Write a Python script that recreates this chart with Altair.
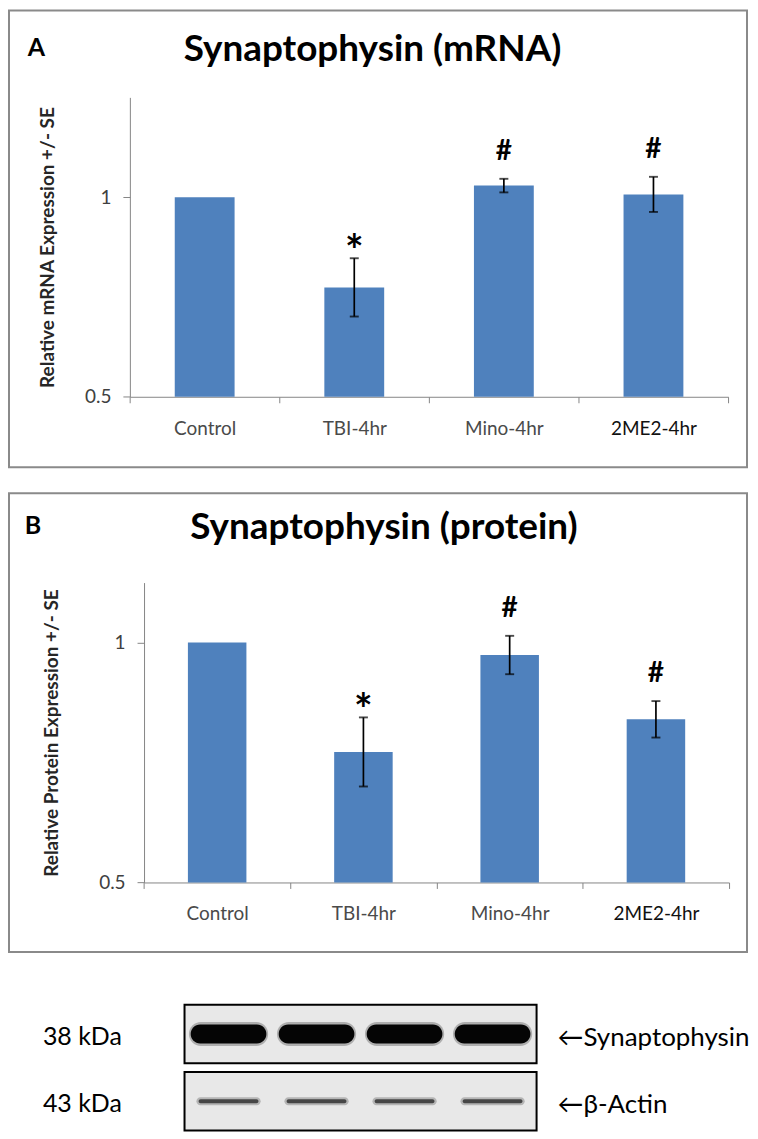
import altair as alt
import pandas as pd

# ---------------- data ----------------
categories = ["Control", "TBI-4hr", "Mino-4hr", "2ME2-4hr"]
mrna_mean = [1.0, 0.774, 1.029, 1.007]
mrna_se = [0.0, 0.073, 0.017, 0.044]
protein_mean = [1.0, 0.772, 0.974, 0.840]
protein_se = [0.0, 0.072, 0.040, 0.038]
significance = ["", "*", "#", "#"]
y_ticks = [0.5, 1.0]

blot_rows = ["Synaptophysin", "β-Actin"]
blot_kda = ["38 kDa", "43 kDa"]
blot_names = ["←Synaptophysin", "←β-Actin"]
lanes = categories

# ---------------- style ----------------
BAR = "#4F81BD"
AXIS = "#868686"
FONT = "Lato"
W = 740


def panel(letter, title, mean, se, ytitle, ymax, height, y_bottom, y_top,
          x_left, x_right, title_x, title_base, letter_x, letter_base,
          title_pad, label_pad):
    df = pd.DataFrame({"cat": categories, "mean": mean, "se": se, "sig": significance})
    base = alt.Chart(df).transform_calculate(
        lo="datum.mean - datum.se", hi="datum.mean + datum.se"
    )
    X = alt.X(
        "cat:N", sort=categories, title=None,
        scale=alt.Scale(range=[x_left, x_right], paddingInner=0, paddingOuter=0),
        axis=alt.Axis(
            orient="bottom", offset=-(height - y_bottom), labelAngle=0,
            tickBand="extent", domainColor=AXIS, tickColor=AXIS, tickSize=6,
            labelFont=FONT, labelFontSize=19, labelPadding=label_pad,
            labelColor=alt.condition("datum.value == '2ME2-4hr'",
                                     alt.value("#111111"), alt.value("#4a4a4a")),
            grid=False,
        ),
    )
    yscale = alt.Scale(domain=[0.5, ymax], range=[y_bottom, y_top], nice=False, zero=False)
    yaxis = alt.Axis(
        values=y_ticks, format="~g", orient="left", offset=-x_left,
        domainColor=AXIS, tickColor=AXIS, tickSize=7, grid=False,
        labelFont=FONT, labelFontSize=19, labelColor="#404040", labelPadding=12,
        titleFont=FONT, titleFontSize=19, titleFontWeight="bold",
        titleColor="#262626", titlePadding=title_pad,
    )

    def Y(field):
        return alt.Y(field, type="quantitative", scale=yscale, axis=yaxis, title=ytitle)

    bars = base.mark_bar(color=BAR, width=alt.RelativeBandSize(0.4)).encode(
        x=X, y=Y("mean"), y2=alt.datum(0.5)
    )
    witherr = base.transform_filter("datum.se > 0")
    err = witherr.mark_rule(color="black", strokeWidth=1.7).encode(
        x=X, y=Y("lo"), y2="hi:Q"
    )
    cap_lo = witherr.mark_tick(orient="horizontal", size=9, thickness=1.9, color="black").encode(
        x=X, y=Y("lo")
    )
    cap_hi = witherr.mark_tick(orient="horizontal", size=9, thickness=1.9, color="black").encode(
        x=X, y=Y("hi")
    )
    hashes = base.transform_filter("datum.sig == '#'").mark_text(
        font=FONT, fontSize=28, fontWeight="bold", baseline="alphabetic", dy=-19, color="black"
    ).encode(x=X, y=Y("hi"), text="sig:N")
    stars = base.transform_filter("datum.sig == '*'").mark_text(
        font=FONT, fontSize=44, fontWeight="bold", baseline="alphabetic", dy=8, color="black"
    ).encode(x=X, y=Y("hi"), text="sig:N")

    ttl = alt.Chart(pd.DataFrame({"t": [title]})).mark_text(
        font=FONT, fontSize=37, fontWeight="bold", align="center",
        baseline="alphabetic", color="black"
    ).encode(text="t:N", x=alt.value(title_x), y=alt.value(title_base))
    let = alt.Chart(pd.DataFrame({"t": [letter]})).mark_text(
        font=FONT, fontSize=25, fontWeight="bold", align="left",
        baseline="alphabetic", color="black"
    ).encode(text="t:N", x=alt.value(letter_x), y=alt.value(letter_base))

    return alt.layer(bars, err, cap_lo, cap_hi, hashes, stars, ttl, let).properties(
        width=W, height=height,
        view=alt.ViewBackground(stroke="#8a8a8a", strokeWidth=2),
    )


panel_a = panel("A", "Synaptophysin (mRNA)", mrna_mean, mrna_se,
                "Relative mRNA Expression +/- SE", 1.25, 458, 387.3, 87.1,
                121.2, 721.2, 364.5, 50.5, 18.8, 45.8, 27, 17)
panel_b = panel("B", "Synaptophysin (protein)", protein_mean, protein_se,
                "Relative Protein Expression +/- SE", 1.125, 460, 390.3, 89.6,
                135.4, 722.0, 376.0, 45.5, 15.8, 40.8, 37, 16)

# ---------------- western blot ----------------
BL, BR = 176, 529
bands = pd.DataFrame([{"lane": l, "row": r} for r in blot_rows for l in lanes])
rows_df = pd.DataFrame({"row": blot_rows, "kda": blot_kda, "name": blot_names})

Xl = alt.X("lane:N", sort=lanes, axis=None,
           scale=alt.Scale(range=[BL, BR], paddingInner=0, paddingOuter=0))
Yr = alt.Y("row:N", sort=blot_rows, axis=None,
           scale=alt.Scale(range=[28, 154], paddingInner=0.132, paddingOuter=0))

boxes = alt.Chart(rows_df).mark_rect(fill="#e8e8e8", stroke="black", strokeWidth=2).encode(
    y=Yr, x=alt.value(BL), x2=alt.value(BR)
)
syn_halo = alt.Chart(bands).transform_filter("datum.row == 'Synaptophysin'").mark_bar(
    color="#000000", height=24, width=alt.RelativeBandSize(0.9), cornerRadius=12, opacity=0.25
).encode(x=Xl, y=Yr)
syn = alt.Chart(bands).transform_filter("datum.row == 'Synaptophysin'").mark_bar(
    color="#050505", height=19, width=alt.RelativeBandSize(0.86), cornerRadius=9.5
).encode(x=Xl, y=Yr)
act_halo = alt.Chart(bands).transform_filter("datum.row == 'β-Actin'").mark_bar(
    color="#555555", height=8, width=alt.RelativeBandSize(0.73), cornerRadius=4, opacity=0.35
).encode(x=Xl, y=Yr)
act = alt.Chart(bands).transform_filter("datum.row == 'β-Actin'").mark_bar(
    color="#3a3a3a", height=4, width=alt.RelativeBandSize(0.68), cornerRadius=2, opacity=0.9
).encode(x=Xl, y=Yr)
kda = alt.Chart(rows_df).mark_text(
    font=FONT, fontSize=25, align="left", baseline="middle", dy=3, color="black"
).encode(y=Yr, x=alt.value(34), text="kda:N")
names = alt.Chart(rows_df).mark_text(
    font=FONT, fontSize=26, align="left", baseline="middle", dy=4, color="black"
).encode(y=Yr, x=alt.value(550), text="name:N")

blot = alt.layer(boxes, syn_halo, syn, act_halo, act, kda, names).properties(
    width=W, height=155, view=alt.ViewBackground(strokeWidth=0)
)

chart = alt.vconcat(panel_a, panel_b, blot, spacing=24, padding=0).configure_view(strokeWidth=0)

chart.save("out.html", embed_options={"renderer": "svg", "actions": False})
